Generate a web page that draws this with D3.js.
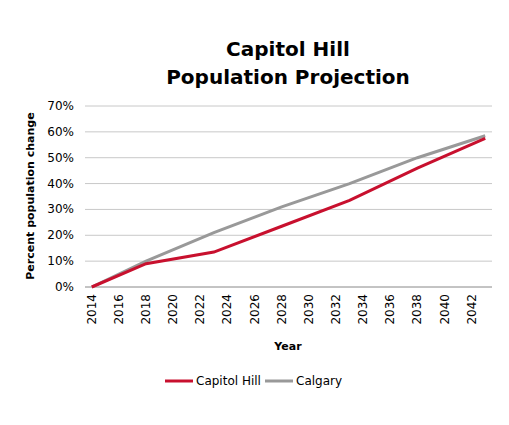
<!DOCTYPE html>
<html><head><meta charset="utf-8">
<script src="https://cdn.jsdelivr.net/npm/d3@7"></script>
<style>body{margin:0;background:#fff}</style></head>
<body><svg id="c" width="509" height="425"></svg>
<script>
const years = d3.range(2014, 2044);
const tickYears = d3.range(2014, 2043, 2);
const pointYears = [2014, 2018, 2023, 2028, 2033, 2038, 2043];
const capitolHill = [0, 0.09, 0.135, 0.235, 0.335, 0.46, 0.575];
const calgary = [0, 0.10, 0.21, 0.31, 0.40, 0.50, 0.585];
const yTicks = [0, 0.1, 0.2, 0.3, 0.4, 0.5, 0.6, 0.7];
const series = [
  {name: 'Capitol Hill', values: capitolHill, color: '#c8102e'},
  {name: 'Calgary', values: calgary, color: '#999999'}
];

const svg = d3.select('#c').style('font-family', 'DejaVu Sans');
const x = d3.scalePoint().domain(years).range([85, 492]).padding(0.5);
const y = d3.scaleLinear().domain([0, 0.7]).range([287, 106]);

svg.append('text').attr('x', 288).attr('y', 56).attr('text-anchor', 'middle')
  .style('font-size', '20px').style('font-weight', 'bold').text('Capitol Hill');
svg.append('text').attr('x', 288).attr('y', 84).attr('text-anchor', 'middle')
  .style('font-size', '20px').style('font-weight', 'bold').text('Population Projection');

svg.append('g').selectAll('line').data(yTicks).join('line')
  .attr('x1', 85).attr('x2', 492).attr('y1', d => y(d)).attr('y2', d => y(d))
  .attr('stroke', d => d === 0 ? '#888' : '#c8c8c8');

svg.append('g').selectAll('text').data(yTicks).join('text')
  .attr('x', 74).attr('y', d => y(d) + 4).attr('text-anchor', 'end')
  .style('font-size', '12px').text(d3.format('.0%'));

svg.append('g').selectAll('text').data(tickYears).join('text')
  .attr('transform', d => `translate(${x(d) + 4},294) rotate(-90)`)
  .attr('text-anchor', 'end').style('font-size', '12px').text(d => d);

svg.append('text').attr('x', 288).attr('y', 350).attr('text-anchor', 'middle')
  .style('font-size', '11px').style('font-weight', 'bold').text('Year');
svg.append('text').attr('transform', 'translate(34,196) rotate(-90)').attr('text-anchor', 'middle')
  .style('font-size', '11px').style('font-weight', 'bold').text('Percent population change');

const line = d3.line().x((d, i) => x(pointYears[i])).y(d => y(d));
series.slice().reverse().forEach(s => {
  svg.append('path').attr('d', line(s.values)).attr('fill', 'none')
    .attr('stroke', s.color).attr('stroke-width', 3);
});

const lx = [165, 265];
series.forEach((s, i) => {
  svg.append('line').attr('x1', lx[i]).attr('x2', lx[i] + 28).attr('y1', 381).attr('y2', 381)
    .attr('stroke', s.color).attr('stroke-width', 3);
  svg.append('text').attr('x', lx[i] + 31).attr('y', 385).style('font-size', '12px').text(s.name);
});
</script></body></html>
